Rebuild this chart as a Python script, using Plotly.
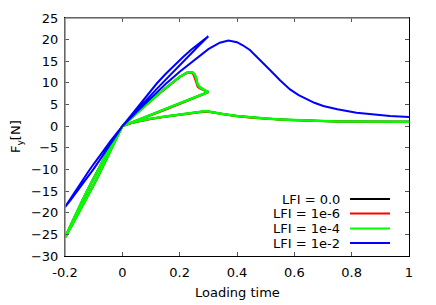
import plotly.graph_objects as go

# ---------------- data ----------------
# LFI = 1e-4 (green); black and red nearly coincide with it
g_t = [0, -0.02, -0.04, -0.06, -0.08, -0.10, -0.12, -0.14, -0.16, -0.18, -0.20,
       -0.18, -0.16, -0.14, -0.12, -0.10, -0.08, -0.06, -0.04, -0.02, 0,
       0.03, 0.06, 0.09, 0.12, 0.15, 0.18, 0.20, 0.215, 0.225, 0.235, 0.245,
       0.252, 0.257, 0.261, 0.266, 0.272, 0.28, 0.29, 0.30,
       0.15, 0,
       0.01, 0.03, 0.05, 0.10, 0.15, 0.20, 0.25, 0.28, 0.293,
       0.31, 0.35, 0.40, 0.45, 0.50, 0.55, 0.60, 0.65, 0.70, 0.75, 0.80,
       0.85, 0.90, 0.95, 1.0]
g_f = [0, -2.82, -5.59, -8.30, -10.95, -13.55, -16.09, -18.58, -21.01, -23.38, -25.7,
       -22.81, -19.98, -17.23, -14.56, -11.95, -9.42, -6.95, -4.56, -2.25, 0,
       1.84, 3.63, 5.38, 7.08, 8.74, 10.35, 11.4, 12.0, 12.35, 12.45, 12.4,
       12.0, 11.2, 10.0, 9.3, 8.9, 8.55, 8.2, 7.9,
       3.95, 0,
       0.4, 0.75, 1.05, 1.75, 2.25, 2.7, 3.15, 3.4, 3.5,
       3.3, 2.8, 2.35, 2.0, 1.75, 1.57, 1.43, 1.3, 1.18, 1.1, 1.07,
       1.05, 1.05, 1.05, 1.05]

r_t = [0, -0.02, -0.04, -0.06, -0.08, -0.10, -0.12, -0.14, -0.16, -0.18, -0.20,
       -0.18, -0.16, -0.14, -0.12, -0.10, -0.08, -0.06, -0.04, -0.02, 0,
       0.03, 0.06, 0.09, 0.12, 0.15, 0.18, 0.20, 0.215, 0.225, 0.235, 0.243,
       0.249, 0.254, 0.258, 0.263, 0.27, 0.28, 0.29, 0.30,
       0.15, 0,
       0.01, 0.03, 0.05, 0.10, 0.15, 0.20, 0.25, 0.28, 0.293,
       0.31, 0.35, 0.40, 0.45, 0.50, 0.55, 0.60, 0.65, 0.70, 0.75, 0.80,
       0.85, 0.90, 0.95, 1.0]
r_f = [0, -2.85, -5.63, -8.35, -11.0, -13.6, -16.14, -18.63, -21.06, -23.42, -25.7,
       -22.85, -20.03, -17.28, -14.6, -12.0, -9.46, -6.99, -4.6, -2.28, 0,
       1.80, 3.58, 5.33, 7.02, 8.68, 10.28, 11.33, 11.92, 12.25, 12.35, 12.28,
       11.8, 10.9, 9.8, 9.1, 8.75, 8.42, 8.08, 7.8,
       3.8, 0,
       0.35, 0.68, 0.97, 1.65, 2.15, 2.6, 3.05, 3.3, 3.4,
       3.2, 2.72, 2.28, 1.94, 1.7, 1.52, 1.39, 1.27, 1.15, 1.08, 1.05,
       1.03, 1.03, 1.03, 1.03]

k_t = g_t
k_f = g_f

# LFI = 1e-2 (blue)
b_t = [0, -0.02, -0.04, -0.06, -0.08, -0.10, -0.12, -0.14, -0.16, -0.18, -0.20,
       -0.18, -0.16, -0.14, -0.12, -0.10, -0.08, -0.06, -0.04, -0.02, 0,
       0.03, 0.06, 0.09, 0.12, 0.15, 0.18, 0.21, 0.24, 0.27, 0.30,
       0.27, 0.24, 0.21, 0.18, 0.15, 0.12, 0.09, 0.06, 0.03, 0,
       0.05, 0.10, 0.15, 0.20, 0.236, 0.27, 0.30, 0.34, 0.37, 0.40, 0.42,
       0.445, 0.48, 0.515, 0.55, 0.585, 0.615, 0.643, 0.67, 0.701, 0.75,
       0.817, 0.875, 0.934, 1.0]
b_f = [0, -2.05, -4.06, -6.03, -7.96, -9.85, -11.70, -13.51, -15.28, -17.01, -18.7,
       -16.61, -14.58, -12.59, -10.64, -8.75, -6.90, -5.11, -3.36, -1.65, 0,
       2.66, 5.18, 7.58, 9.86, 12.0, 14.01, 15.89, 17.65, 19.29, 20.8,
       18.82, 16.82, 14.8, 12.76, 10.7, 8.61, 6.49, 4.35, 2.19, 0,
       3.3, 6.6, 9.7, 12.6, 14.5, 16.3, 17.8, 19.3, 19.8, 19.4, 18.7,
       17.6, 15.4, 13.0, 10.6, 8.5, 7.2, 6.2, 5.4, 4.67, 3.9,
       3.1, 2.65, 2.35, 2.15]

names = ["LFI = 0.0", "LFI = 1e-6", "LFI = 1e-4", "LFI = 1e-2"]
colors = ["#000000", "#ff0000", "#00ff00", "#0000ff"]
widths = [2, 2, 2.5, 2]

x_ticks = [-0.2, 0, 0.2, 0.4, 0.6, 0.8, 1]
x_tick_text = ["-0.2", "0", "0.2", "0.4", "0.6", "0.8", "1"]
y_ticks = [-30, -25, -20, -15, -10, -5, 0, 5, 10, 15, 20, 25]

# ---------------- figure ----------------
fig = go.Figure()
series = [(k_t, k_f), (r_t, r_f), (g_t, g_f), (b_t, b_f)]
for (t, f), n, c, w in zip(series, names, colors, widths):
    fig.add_trace(go.Scatter(x=t, y=f, mode="lines", name=n,
                             line=dict(color=c, width=w), showlegend=False))

FONT = "DejaVu Sans, Arial, sans-serif"
FS = 13
# page body has an 8px margin, so the figure is shifted by 8px right/down
OFF = 8
L, T = 65 - OFF, 18 - OFF
pw, ph = 344, 238
W, H = 436 - OFF, 305 - OFF
R, B = W - L - pw, H - T - ph

fig.update_layout(
    width=W, height=H,
    margin=dict(l=L, r=R, t=T, b=B, pad=0),
    paper_bgcolor="white", plot_bgcolor="white",
    font=dict(family=FONT, size=FS, color="black"),
    xaxis=dict(range=[-0.2, 1], tickvals=x_ticks, ticktext=x_tick_text,
               ticks="inside", ticklen=4, tickcolor="#555", mirror="ticks",
               showline=True, linecolor="black", linewidth=1,
               showgrid=False, zeroline=False, automargin=False,
               ticklabelstandoff=4,
               tickfont=dict(family=FONT, size=FS)),
    yaxis=dict(range=[-30, 25], tickvals=y_ticks,
               ticks="inside", ticklen=4, tickcolor="#555", mirror="ticks",
               showline=True, linecolor="black", linewidth=1,
               showgrid=False, zeroline=False, automargin=False,
               ticklabelstandoff=3,
               tickfont=dict(family=FONT, size=FS)),
)

# axis titles placed like the reference (reference pixel coords -> paper)
def px2paper(x, y):
    return (x - 65) / pw, (256 - y) / ph

ax_, ay_ = px2paper(237, 292)
fig.add_annotation(x=ax_, y=ay_, xref="paper", yref="paper",
                   text="Loading time", showarrow=False, xanchor="center",
                   yanchor="middle", font=dict(family=FONT, size=FS))
bx_, by_ = px2paper(16, 137)
fig.add_annotation(x=bx_, y=by_, xref="paper", yref="paper",
                   text="F<sub>y</sub>[N]", showarrow=False, textangle=-90,
                   xanchor="center", yanchor="middle", font=dict(family=FONT, size=FS))

# gnuplot-like gray left/top border
fig.add_shape(type="line", xref="paper", yref="paper", x0=0, x1=0, y0=0, y1=1,
              line=dict(color="#888888", width=1.5))
fig.add_shape(type="line", xref="paper", yref="paper", x0=0, x1=1, y0=1, y1=1,
              line=dict(color="#888888", width=1.5))

# gnuplot-style legend: text right-aligned, sample line to the right
leg_py = [199, 213.5, 228.5, 243]
tx, _ = px2paper(342, 0)
lx0, _ = px2paper(350, 0)
lx1, _ = px2paper(390, 0)
for n, c, py in zip(names, colors, leg_py):
    _, yy = px2paper(0, py)
    fig.add_annotation(x=tx, y=yy, xref="paper", yref="paper", text=n,
                       showarrow=False, xanchor="right", yanchor="middle",
                       font=dict(family=FONT, size=FS, color="black"))
    fig.add_shape(type="line", xref="paper", yref="paper",
                  x0=lx0, x1=lx1, y0=yy, y1=yy, line=dict(color=c, width=2))

fig.write_html("out.html")
